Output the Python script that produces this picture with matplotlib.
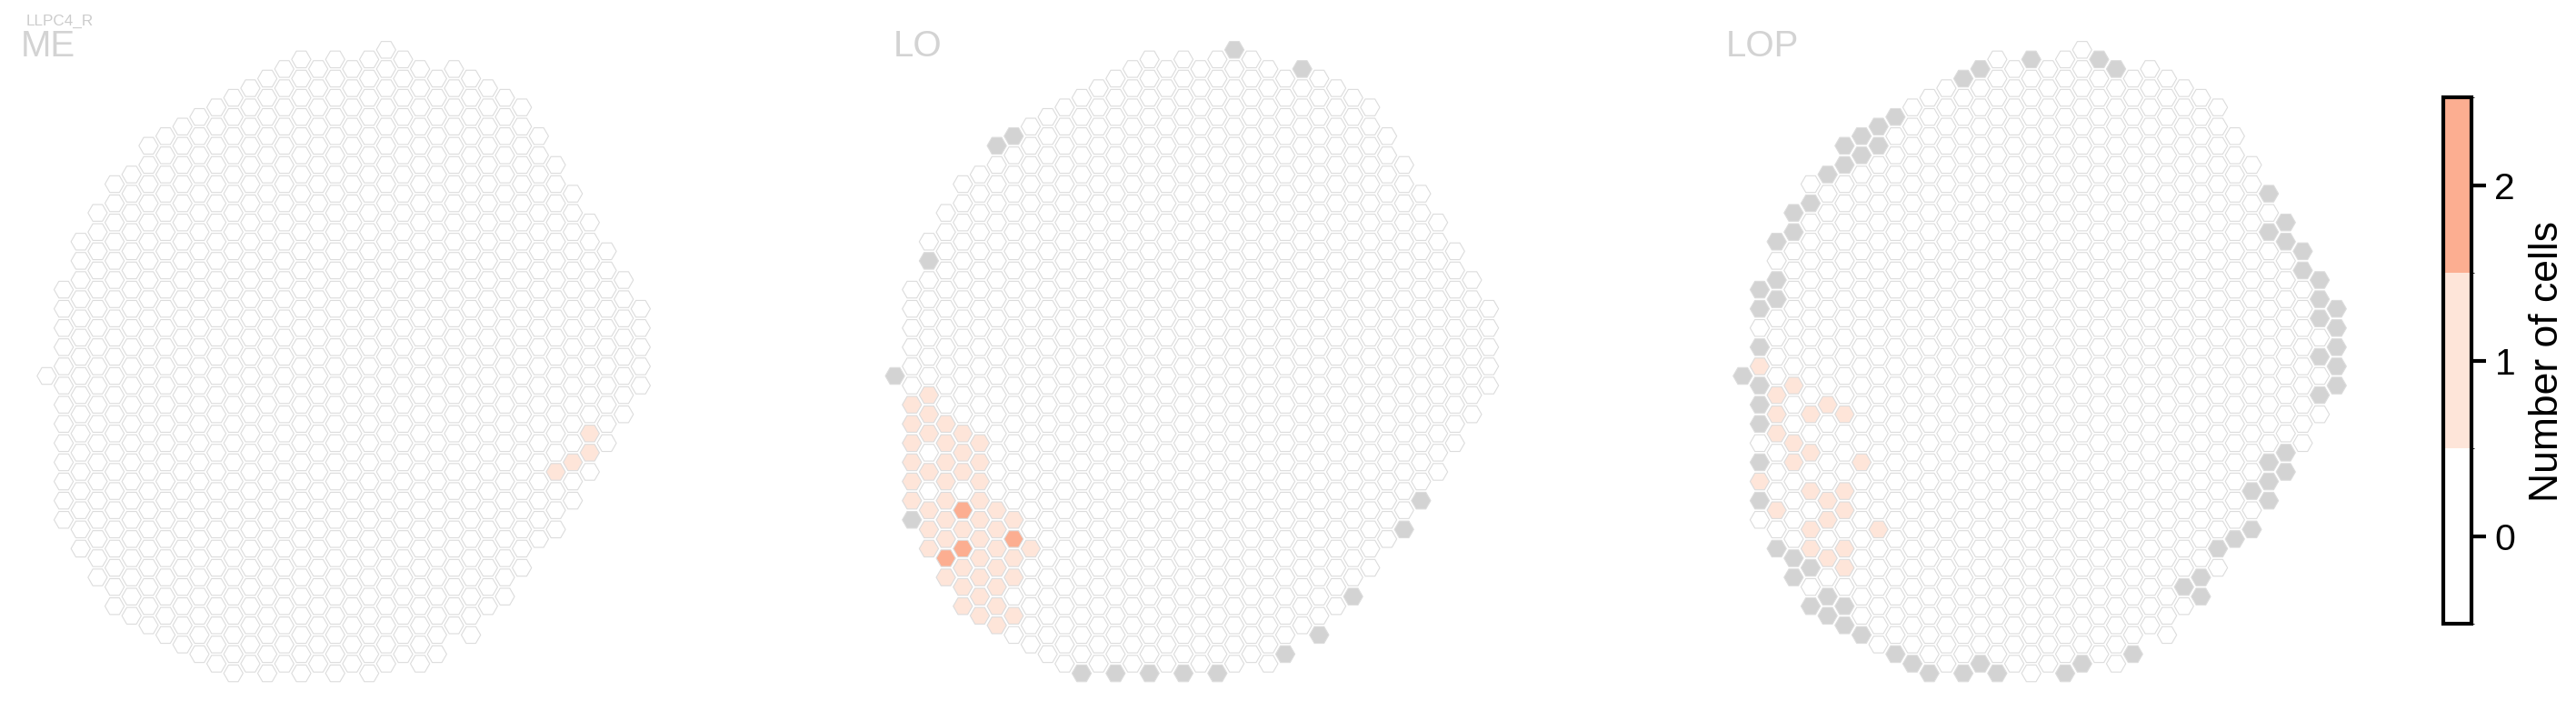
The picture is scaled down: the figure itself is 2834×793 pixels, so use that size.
import numpy as np
import matplotlib
matplotlib.use('Agg')
import matplotlib.pyplot as plt
from matplotlib.collections import PolyCollection
from matplotlib.colors import ListedColormap, BoundaryNorm
from matplotlib.cm import ScalarMappable

plt.rcParams['font.family'] = ['Liberation Sans', 'DejaVu Sans']

cell_type = 'LLPC4_R'
regions = ['ME', 'LO', 'LOP']

# hex columns: first / last row of each column (rows in half steps, same parity as column)
col_top = [0, -9, -14, -17, -20, -21, -24, -25, -26, -27, -28, -29, -30, -31, -32, -33, -32, -33,
           -32, -33, -34, -33, -32, -31, -32, -31, -30, -29, -28, -25, -22, -19, -16, -13, -10, -7]
col_bottom = [0, 15, 18, 21, 24, 25, 26, 27, 28, 29, 30, 31, 30, 31, 30, 31, 30, 31,
              30, 31, 30, 29, 30, 29, 26, 27, 24, 23, 20, 17, 16, 13, 10, 7, 4, 1]

# (column, row) of columns holding 1 or 2 cells
me_one = [(32, 6), (32, 8), (31, 9), (30, 10)]

lo_one = [(1, 3), (1, 5), (1, 7), (1, 9), (1, 11), (1, 13),
          (2, 2), (2, 4), (2, 6), (2, 10), (2, 14), (2, 16), (2, 18),
          (3, 5), (3, 7), (3, 9), (3, 11), (3, 13), (3, 15), (3, 17), (3, 21),
          (4, 6), (4, 8), (4, 10), (4, 16), (4, 20), (4, 22), (4, 24),
          (5, 7), (5, 9), (5, 11), (5, 13), (5, 15), (5, 17), (5, 19), (5, 21), (5, 23), (5, 25),
          (6, 14), (6, 16), (6, 18), (6, 20), (6, 22), (6, 24), (6, 26),
          (7, 15), (7, 19), (7, 21), (7, 25), (8, 18)]
lo_two = [(3, 19), (4, 14), (4, 18), (7, 17)]
lo_gray = [(20, -34), (24, -32), (7, -25), (6, -24), (2, -12), (0, 0), (1, 15), (31, 13), (30, 16),
           (27, 23), (25, 27), (23, 29), (19, 31), (17, 31), (15, 31), (13, 31), (11, 31)]

lop_one = [(1, -1), (3, 1), (2, 2), (5, 3), (2, 4), (4, 4), (6, 4), (2, 6), (3, 7), (4, 8), (3, 9),
           (7, 9), (1, 11), (4, 12), (6, 12), (5, 13), (2, 14), (6, 14), (5, 15), (4, 16), (8, 16),
           (4, 18), (6, 18), (5, 19), (6, 20)]
lop_gray = [(17, -33), (21, -33), (22, -32), (14, -32), (13, -31), (9, -27), (8, -26), (7, -25),
            (6, -24), (8, -24), (7, -23), (6, -22), (5, -21), (4, -18), (3, -17), (3, -15), (2, -14),
            (2, -10), (1, -9), (2, -8), (1, -7), (1, -3), (0, 0), (1, 1), (1, 3), (1, 5), (1, 9),
            (1, 13), (2, 18), (3, 19), (4, 20), (3, 21), (5, 23), (4, 24), (6, 24), (5, 25), (6, 26),
            (7, 27), (9, 29), (10, 30), (11, 31), (13, 31), (14, 30), (15, 31), (19, 31), (20, 30),
            (23, 29), (26, 22), (27, 21), (27, 23), (28, 18), (29, 17), (30, 16), (30, 12), (31, 11),
            (31, 13), (31, 9), (32, 8), (32, 10), (34, -10), (34, -8), (34, -6), (34, -2), (34, 2),
            (35, -7), (35, -5), (35, -3), (35, -1), (35, 1), (33, -13), (33, -11), (32, -16),
            (32, -14), (31, -19), (31, -15)]

counts = {'ME': {1: me_one}, 'LO': {1: lo_one, 2: lo_two}, 'LOP': {1: lop_one}}
missing = {'ME': [], 'LO': lo_gray, 'LOP': lop_gray}

count_colors = ['#ffffff', '#fee5d9', '#fcae91']
gray = '#d3d3d3'

# layout in pixels
W, H = 2834, 793
DX, DY = 18.67, 10.55
col0_px = [51.4, 984.6, 1917.3]
row0_px = 413.5
R = 10.6

fig = plt.figure(figsize=(W / 100, H / 100), dpi=100)

hw = R / DX
hh = R * np.sqrt(3) / 2 / DY
hexagon = np.array([(hw, 0), (hw / 2, hh), (-hw / 2, hh), (-hw, 0), (-hw / 2, -hh), (hw / 2, -hh)])

cells = [(c, k) for c in range(len(col_top)) for k in range(col_top[c], col_bottom[c] + 1, 2)]

for i, reg in enumerate(regions):
    left = col0_px[i] - 1.5 * DX
    ax = fig.add_axes([left / W, (H - (row0_px + 34 * DY)) / H, 38 * DX / W, 71 * DY / H])
    ax.set_xlim(-1.5, 36.5)
    ax.set_ylim(34, -37)
    ax.axis('off')

    colour = {cell: count_colors[0] for cell in cells}
    for val, lst in counts[reg].items():
        for cell in lst:
            colour[cell] = count_colors[val]
    for cell in missing[reg]:
        colour[cell] = gray

    polys = [hexagon + np.array(cell) for cell in colour]
    pc = PolyCollection(polys, facecolors=list(colour.values()), edgecolors='#dcdcdc',
                        linewidths=0.8)
    ax.add_collection(pc)

# labels
fig.text(28.2 / W, 1 - 28.3 / H, cell_type, fontsize=12.3, color='#cccccc', va='baseline')
label_x = [23.0, 983.0, 1899.0]
for reg, x in zip(regions, label_x):
    fig.text(x / W, 1 - 61.7 / H, reg, fontsize=29, color='#d3d3d3', va='baseline')

# colorbar
cax = fig.add_axes([2688 / W, (H - 686) / H, 31 / W, 578.7 / H])
cmap = ListedColormap(count_colors)
norm = BoundaryNorm([-0.5, 0.5, 1.5, 2.5], cmap.N)
cb = fig.colorbar(ScalarMappable(norm=norm, cmap=cmap), cax=cax, ticks=[0, 1, 2])
cb.outline.set_linewidth(3)
cb.ax.tick_params(length=11.3, width=3, labelsize=29.5, pad=7)
fig.text(2803 / W, 1 - 397 / H, 'Number of cells', rotation=90, fontsize=32,
         ha='center', va='center')

fig.savefig('out.png', dpi=100)
